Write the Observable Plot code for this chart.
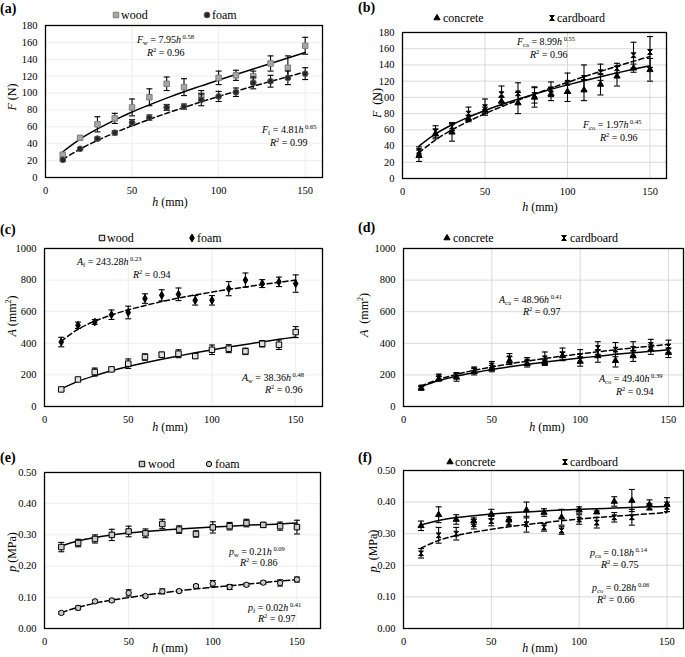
<!DOCTYPE html>
<html><head><meta charset="utf-8">
<script src="https://cdn.jsdelivr.net/npm/d3@7"></script>
<script src="https://cdn.jsdelivr.net/npm/@observablehq/plot@0.6"></script>
<style>
body{margin:0;background:#fff;}
#root{position:relative;width:685px;height:657px;overflow:hidden;font-family:"Liberation Serif","Times New Roman","DejaVu Serif",serif;color:#000;background:#fff;}
.abs{position:absolute;white-space:nowrap;line-height:1;}
.lab{font-weight:bold;font-size:14px;}
.leg{font-size:12px;}
.eq{font-size:10px;}
.eq sub{font-size:6.5px;vertical-align:-2px;line-height:0;}
.eq sup{font-size:6.5px;vertical-align:4px;line-height:0;}
.ax{font-size:12px;}
.ax sup{font-size:8px;line-height:0;}
svg{position:absolute;}
</style></head><body><div id="root"></div>
<script>
// ---------------- data ----------------
const h = [10,20,30,40,50,60,70,80,90,100,110,120,130,140,150];
const xTicks = [0,50,100,150];
const fTicks = [0,20,40,60,80,100,120,140,160,180];
const aTicks = [0,200,400,600,800,1000];
const pTicks = [0,0.1,0.2,0.3,0.4,0.5];

// (a) force, wood / foam
const aWood    = [27,47,63,70,83,95,111,107,97,118,121,120,135,130,156];
const aWoodErr = [2,2,9,6,10,10,8,10,6,8,6,6,9,14,10];
const aFoam    = [21,34,46,53,65,71,83,84,92,96,101,112,114,118,123];
const aFoamErr = [2,1.5,2,2.5,3.5,3,3.5,3,7,6,5,7,7,8,7];
const aWoodFit = [30.5,45.5,57.5,68,77.5,86,94,101.5,108.5,115.5,122,128.5,135,141.5,148];
const aFoamFit = [21.5,33.7,43.9,52.9,61.2,68.9,76.1,83,89.6,96,102.1,108.1,113.8,119.4,125];

// (b) force, concrete / cardboard
const bConc    = [28,55,57,74,84,95,93,100,104,107,109,116,126,136,134];
const bConcErr = [7,6,11,4,4,5,13,12,8,12,13,13,12,5,14];
const bCard    = [34,58,64,80,88,104,105,103,110,118,124,131,136,152,156];
const bCardErr = [5,7,5,8,10,10,13,10,9,12,16,10,6,16,19];
const bSolidFit  = [40,55,66.3,75.7,83.8,91.2,97.9,104,109.9,115.4,120.5,125.4,130.2,134.7,139];
const bDashedFit = [32,47.5,60,70.5,80,88.5,96.5,104,111.5,118.5,125.5,132,138.5,144.5,150.5];

// (c) area, wood / foam
const cWood    = [108,171,218,235,271,313,328,334,319,359,366,349,397,391,471];
const cWoodErr = [10,8,25,12,30,20,15,25,15,30,25,20,20,30,35];
const cFoam    = [408,514,535,581,595,683,704,710,672,672,746,800,778,789,778];
const cFoamErr = [30,20,15,30,40,30,35,40,30,30,45,45,25,30,55];
const cWoodFit = [112,159,195,226,253,277,299,320,340,358,376,393,409,425,440];
const cFoamFit = [413,489,540,579,612,639,664,686,706,724,741,757,772,786,800];

// (d) area, concrete / cardboard
const dConc    = [115,175,185,220,240,290,270,280,320,285,320,290,320,360,340];
const dConcErr = [10,15,25,20,20,25,20,20,25,30,40,40,35,30,30];
const dCard    = [120,185,195,230,260,305,285,305,330,320,370,360,365,390,380];
const dCardErr = [10,20,20,20,25,30,25,40,40,40,40,45,45,35,40];
const dSolidFit  = [125,164,192,214,234,251,267,281,295,307,318,330,340,349,359];
const dDashedFit = [130,172,203,229,250,270,287,304,319,333,346,359,371,382,393];

// (e) pressure, wood / foam
const eWood    = [0.261,0.274,0.287,0.300,0.311,0.305,0.335,0.317,0.303,0.324,0.328,0.338,0.332,0.328,0.325];
const eWoodErr = [0.015,0.012,0.013,0.018,0.017,0.014,0.015,0.012,0.010,0.018,0.012,0.012,0.008,0.013,0.022];
const eFoam    = [0.050,0.066,0.087,0.090,0.114,0.104,0.119,0.120,0.136,0.144,0.133,0.140,0.147,0.146,0.157];
const eFoamErr = [0.004,0.006,0.004,0.005,0.010,0.005,0.008,0.005,0.005,0.010,0.008,0.005,0.005,0.010,0.008];
const eWoodFit = [0.264,0.281,0.292,0.300,0.306,0.311,0.315,0.319,0.322,0.325,0.328,0.331,0.333,0.335,0.338];
const eFoamFit = [0.051,0.068,0.081,0.091,0.099,0.107,0.114,0.121,0.127,0.132,0.137,0.142,0.147,0.152,0.156];

// (f) pressure, concrete / cardboard
const fConc    = [0.325,0.360,0.345,0.340,0.362,0.345,0.375,0.367,0.352,0.375,0.368,0.402,0.405,0.392,0.392];
const fConcErr = [0.015,0.025,0.015,0.010,0.015,0.008,0.025,0.012,0.025,0.010,0.004,0.015,0.035,0.015,0.022];
const fCard    = [0.238,0.295,0.300,0.330,0.340,0.335,0.330,0.320,0.310,0.345,0.335,0.352,0.352,0.385,0.385];
const fCardErr = [0.015,0.025,0.020,0.015,0.015,0.010,0.025,0.012,0.012,0.015,0.017,0.015,0.025,0.010,0.015];
const fSolidFit  = [0.328,0.342,0.351,0.357,0.362,0.366,0.369,0.372,0.375,0.377,0.379,0.381,0.383,0.385,0.386];
const fDashedFit = [0.254,0.279,0.294,0.305,0.314,0.322,0.329,0.335,0.341,0.346,0.351,0.355,0.359,0.363,0.367];

// ---------------- symbols & styles ----------------
const FONT = '"Liberation Serif","Times New Roman","DejaVu Serif",serif';
const capSym = {draw(ctx, size){ const r = Math.sqrt(size/Math.PI); ctx.moveTo(-r,0); ctx.lineTo(r,0); }};
const hourglass = {draw(ctx, size){ const r = Math.sqrt(size/Math.PI); ctx.moveTo(-r,-r); ctx.lineTo(r,-r); ctx.lineTo(-r,r); ctx.lineTo(r,r); ctx.closePath(); }};
const st = {
  woodA: {symbol:"square", r:3.1, fill:"#a6a6a6", stroke:"#7f7f7f"},
  foamA: {symbol:"circle", r:2.9, fill:"#262626", stroke:"#595959"},
  woodC: {symbol:"square", r:3.1, fill:"#e0e0e0", stroke:"#000"},
  foamC: {symbol:"diamond", r:2.4, fill:"#000", stroke:"#000"},
  woodE: {symbol:"square", r:3.1, fill:"#c8c8c8", stroke:"#000"},
  foamE: {symbol:"circle", r:2.7, fill:"#c8c8c8", stroke:"#000"},
  conc:  {symbol:"triangle", r:2.3, fill:"#000", stroke:"#000"},
  card:  {symbol:hourglass, r:2.4, fill:"#000", stroke:"#000"}
};
const fmt0 = d => String(d), fmt2 = d => d.toFixed(2);
const it = s => `<i>${s}</i>`;
const eqF = (v, sub, coef, ex) => `<i>${v}</i><sub>${sub}</sub> = ${coef}<i>h</i><sup> ${ex}</sup>`;
const r2 = v => `<i>R</i><sup>2</sup> = ${v}`;

const panels = [
 {label:"(a)", lx:0, ly:9, L:45, R:322, T:25, B:177, xmax:160, ymax:180, yTicks:fTicks, fmt:fmt0, grid:"#ededed",
  series:[{v:aWood,e:aWoodErr,s:st.woodA,name:"wood",mx:116,tx:121},{v:aFoam,e:aFoamErr,s:st.foamA,name:"foam",mx:207,tx:212}], legY:15,
  fits:[{v:aWoodFit},{v:aFoamFit,dash:"5,3"}],
  ylab:`${it("F")} (N)`, ylx:12, yly:97, xlx:170, xly:202,
  eqs:[[137,40,eqF("F","w","7.95","0.58")],[147,53,r2("0.96")],[262,130,eqF("F","f","4.81","0.65")],[270,143,r2("0.99")]]},
 {label:"(b)", lx:358, ly:8, L:402, R:666, T:32, B:178, xmax:160, ymax:180, yTicks:fTicks, fmt:fmt0, grid:"#d9d9d9",
  series:[{v:bConc,e:bConcErr,s:st.conc,name:"concrete",mx:437,tx:443},{v:bCard,e:bCardErr,s:st.card,name:"cardboard",mx:552,tx:557}], legY:18,
  fits:[{v:bSolidFit},{v:bDashedFit,dash:"5,3"}],
  ylab:`${it("F")}&nbsp; (N)`, ylx:377, yly:103, xlx:540, xly:207,
  eqs:[[517,42,eqF("F","ca","8.99","0.55")],[530,55,r2("0.96")],[583,125,eqF("F","co","1.97","0.45")],[600,138,r2("0.96")]]},
 {label:"(c)", lx:0, ly:230, L:44, R:322, T:248, B:406, xmax:166, ymax:1000, yTicks:aTicks, fmt:fmt0, grid:"#ededed",
  series:[{v:cWood,e:cWoodErr,s:st.woodC,name:"wood",mx:102,tx:107},{v:cFoam,e:cFoamErr,s:st.foamC,name:"foam",mx:192,tx:197}], legY:238,
  fits:[{v:cWoodFit},{v:cFoamFit,dash:"5,3"}],
  ylab:`${it("A")} (mm<sup>2</sup>)`, ylx:12, yly:316, xlx:170, xly:427,
  eqs:[[77,262,eqF("A","f","243.28","0.23")],[133,275,r2("0.94")],[242,378,eqF("A","w","38.36","0.48")],[265,390,r2("0.96")]]},
 {label:"(d)", lx:358, ly:228, L:403, R:683, T:248, B:406, xmax:158.5, ymax:1000, yTicks:aTicks, fmt:fmt0, grid:"#d9d9d9",
  series:[{v:dConc,e:dConcErr,s:st.conc,name:"concrete",mx:447,tx:453},{v:dCard,e:dCardErr,s:st.card,name:"cardboard",mx:564,tx:570}], legY:238,
  fits:[{v:dSolidFit},{v:dDashedFit,dash:"5,3"}],
  ylab:`${it("A")}&nbsp; (mm<sup>2</sup>)`, ylx:364, yly:315, xlx:547, xly:427,
  eqs:[[499,300,eqF("A","ca","48.96","0.41")],[523,312,r2("0.97")],[599,379,eqF("A","co","49.40","0.39")],[616,392,r2("0.94")]]},
 {label:"(e)", lx:0, ly:458, L:44, R:320, T:472, B:628, xmax:164, ymax:0.5, yTicks:pTicks, fmt:fmt2, grid:"#ededed",
  series:[{v:eWood,e:eWoodErr,s:st.woodE,name:"wood",mx:142,tx:148},{v:eFoam,e:eFoamErr,s:st.foamE,name:"foam",mx:209,tx:215}], legY:464,
  fits:[{v:eWoodFit},{v:eFoamFit,dash:"6,3"}],
  ylab:`${it("p")} (MPa)`, ylx:12, yly:552, xlx:170, xly:648,
  eqs:[[229,552,eqF("p","w","0.21","0.09")],[240,563,r2("0.86")],[248,608,eqF("p","f","0.02","0.41")],[258,619,r2("0.97")]]},
 {label:"(f)", lx:358, ly:458, L:403, R:683, T:470, B:628, xmax:159.4, ymax:0.5, yTicks:pTicks, fmt:fmt2, grid:"#d9d9d9",
  series:[{v:fConc,e:fConcErr,s:st.conc,name:"concrete",mx:450,tx:455},{v:fCard,e:fCardErr,s:st.card,name:"cardboard",mx:565,tx:570}], legY:462,
  fits:[{v:fSolidFit},{v:fDashedFit,dash:"5,3"}],
  ylab:`${it("p")}&nbsp; (MPa)`, ylx:373, yly:551, xlx:540, xly:648,
  eqs:[[590,553,eqF("p","ca","0.18","0.14")],[601,565,r2("0.75")],[592,588,eqF("p","co","0.28","0.06")],[597,600,r2("0.66")]]}
];

// ---------------- render ----------------
const root = document.getElementById("root");
function addText(html, x, y, cls, transform){
  const d = document.createElement("div");
  d.className = "abs " + cls; d.innerHTML = html;
  d.style.left = x + "px"; d.style.top = y + "px";
  d.style.transform = transform || "translateY(-50%)";
  root.appendChild(d); return d;
}
const symMap = {square:d3.symbolSquare, circle:d3.symbolCircle, triangle:d3.symbolTriangle, diamond:d3.symbolDiamond};
function markerSvg(s){
  const sz = Math.ceil(2*s.r + 4);
  const sym = typeof s.symbol === "string" ? symMap[s.symbol] : s.symbol;
  const p = d3.symbol(sym, s.r*s.r*Math.PI)();
  return `<svg width="${sz}" height="${sz}" viewBox="${-sz/2} ${-sz/2} ${sz} ${sz}" style="position:static;display:block"><path d="${p}" fill="${s.fill}" stroke="${s.stroke}" stroke-width="1"/></svg>`;
}

const ML = 40, MR = 3, MT = 4, MB = 24;
for (const p of panels){
  const marks = [
    Plot.gridX({ticks:[50,100,150], stroke:p.grid, strokeOpacity:1, strokeWidth:1}),
    Plot.gridY({ticks:p.yTicks.slice(1), stroke:p.grid, strokeOpacity:1, strokeWidth:1})
  ];
  for (const f of p.fits){
    marks.push(Plot.line(h.map((x,i)=>({h:x, v:f.v[i]})), {x:"h", y:"v", stroke:"#000", strokeWidth:1.5, strokeDasharray:f.dash, curve:"catmull-rom"}));
  }
  for (const s of p.series){
    const rows = h.map((x,i)=>({h:x, v:s.v[i], e:s.e[i]}));
    marks.push(Plot.ruleX(rows, {x:"h", y1:d=>d.v-d.e, y2:d=>d.v+d.e, stroke:"#000", strokeWidth:1.1}));
    marks.push(Plot.dot(rows, {x:"h", y:d=>d.v+d.e, symbol:capSym, r:3, fill:"none", stroke:"#000", strokeWidth:1.1}));
    marks.push(Plot.dot(rows, {x:"h", y:d=>d.v-d.e, symbol:capSym, r:3, fill:"none", stroke:"#000", strokeWidth:1.1}));
    marks.push(Plot.dot(rows, {x:"h", y:"v", symbol:s.s.symbol, r:s.s.r, fill:s.s.fill, stroke:s.s.stroke, strokeWidth:1}));
  }
  marks.push(Plot.axisX({ticks:xTicks, tickSize:0, tickPadding:9, label:null}));
  marks.push(Plot.axisY({ticks:p.yTicks, tickSize:0, tickPadding:8, label:null, tickFormat:p.fmt}));
  marks.push(Plot.frame({stroke:"#000", strokeWidth:1.3}));
  const svg = Plot.plot({
    width: p.R - p.L + ML + MR, height: p.B - p.T + MT + MB,
    marginLeft:ML, marginRight:MR, marginTop:MT, marginBottom:MB,
    x:{domain:[0,p.xmax]}, y:{domain:[0,p.ymax]},
    style:{fontFamily:FONT, fontSize:"10.5px", color:"#000", background:"none", overflow:"visible"},
    marks
  });
  svg.style.left = (p.L - ML) + "px";
  svg.style.top = (p.T - MT) + "px";
  svg.style.fontFamily = FONT;
  root.appendChild(svg);

  addText(p.label, p.lx, p.ly, "lab");
  for (const s of p.series){
    addText(markerSvg(s.s), s.mx, p.legY, "", "translate(-50%,-50%)");
    addText(s.name, s.tx, p.legY, "leg");
  }
  addText(p.ylab, p.ylx, p.yly, "ax", "translate(-50%,-50%) rotate(-90deg)");
  addText(`${it("h")} (mm)`, p.xlx, p.xly, "ax", "translate(-50%,-50%)");
  for (const [x,y,html] of p.eqs) addText(html, x, y, "eq");
}
</script></body></html>
